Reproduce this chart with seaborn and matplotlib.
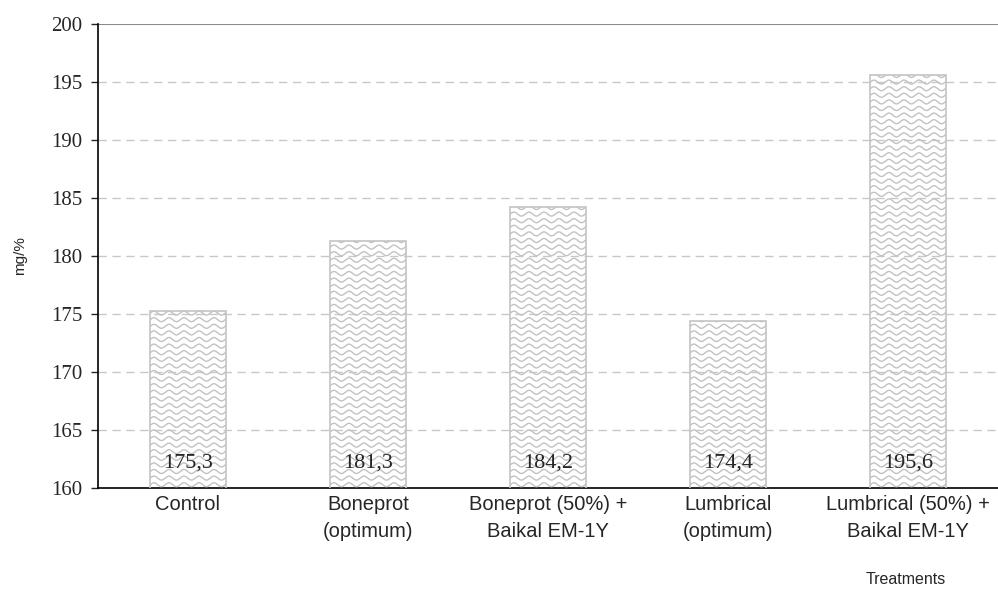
import numpy as np
import pandas as pd
import matplotlib
matplotlib.use("Agg")
import matplotlib.pyplot as plt
import seaborn as sns

# data
treatments = ["Control", "Boneprot\n(optimum)", "Boneprot (50%) +\nBaikal EM-1Y",
              "Lumbrical\n(optimum)", "Lumbrical (50%) +\nBaikal EM-1Y"]
values = [175.3, 181.3, 184.2, 174.4, 195.6]
y_ticks = [160, 165, 170, 175, 180, 185, 190, 195, 200]

df = pd.DataFrame({"treatment": treatments, "value": values})

sns.set_style("white")
plt.rcParams["font.family"] = ["Liberation Sans", "DejaVu Sans"]

fig = plt.figure(figsize=(9.98, 5.94), dpi=100)
ax = fig.add_axes([98 / 998, 1 - 488 / 594, 1 - 98 / 998, (488 - 24) / 594])

sns.barplot(data=df, x="treatment", y="value", color="white", width=0.42,
            edgecolor="#c4c4c4", linewidth=1.2, ax=ax, zorder=3)

ax.set_ylim(y_ticks[0], y_ticks[-1])
ax.set_xlim(-0.5, len(treatments) - 0.5)
ax.set_yticks(y_ticks)
ax.set_yticklabels([str(t) for t in y_ticks], family=["Liberation Serif"], fontsize=15)

# dashed grid, solid top line
for t in y_ticks[1:-1]:
    ax.axhline(t, color="#c8c8c8", linestyle=(0, (6, 4)), linewidth=1, zorder=1)
ax.axhline(y_ticks[-1], color="#8a8a8a", linewidth=1.5, zorder=1)

for s in ["top", "right"]:
    ax.spines[s].set_visible(False)
ax.spines["left"].set_color("black")
ax.spines["bottom"].set_color("black")
ax.spines["left"].set_linewidth(1.2)
ax.spines["bottom"].set_linewidth(1.2)

# x ticks between categories
ax.set_xticks(np.arange(len(treatments)))
ax.set_xticklabels(treatments, fontsize=14.5, linespacing=1.55)
ax.set_xticks(np.arange(len(treatments) + 1) - 0.5, minor=True)
ax.tick_params(axis="x", which="major", length=0, pad=5)
ax.tick_params(axis="x", which="minor", length=5, direction="out", width=1)
ax.tick_params(axis="y", length=5, direction="out", width=1, left=True, pad=6)

ax.set_xlabel("Treatments", fontsize=11.5)
ax.xaxis.set_label_coords(0.897, -0.18)
ax.set_ylabel("mg/%", fontsize=11)
ax.yaxis.set_label_coords(-0.079, 0.5)

# wavy fill inside each bar
fig.canvas.draw()
inv = ax.transData.inverted()
px_x = inv.transform((1, 0))[0] - inv.transform((0, 0))[0]
px_y = inv.transform((0, 1))[1] - inv.transform((0, 0))[1]
period, spacing, amp = 15 * px_x, 6.6 * px_y, 2.0 * px_y
ylo = ax.get_ylim()[0]
for patch, v in zip(ax.patches, values):
    x0, w = patch.get_x(), patch.get_width()
    xs = np.linspace(x0, x0 + w, 200)
    y = ylo + spacing / 2
    while y < v + spacing:
        line, = ax.plot(xs, y + amp * np.sin(2 * np.pi * (xs - x0) / period),
                        color="#c2c2c2", linewidth=1.0, zorder=4)
        line.set_clip_path(patch)
        y += spacing
    patch.set_zorder(5)
    patch.set_facecolor("none")
    ax.annotate(f"{v:.1f}".replace(".", ","), (x0 + w / 2, ylo), xytext=(0, 18),
                textcoords="offset points", ha="center", va="center",
                family=["Liberation Serif"], fontsize=16, zorder=6)

fig.savefig("out.png", dpi=100)
